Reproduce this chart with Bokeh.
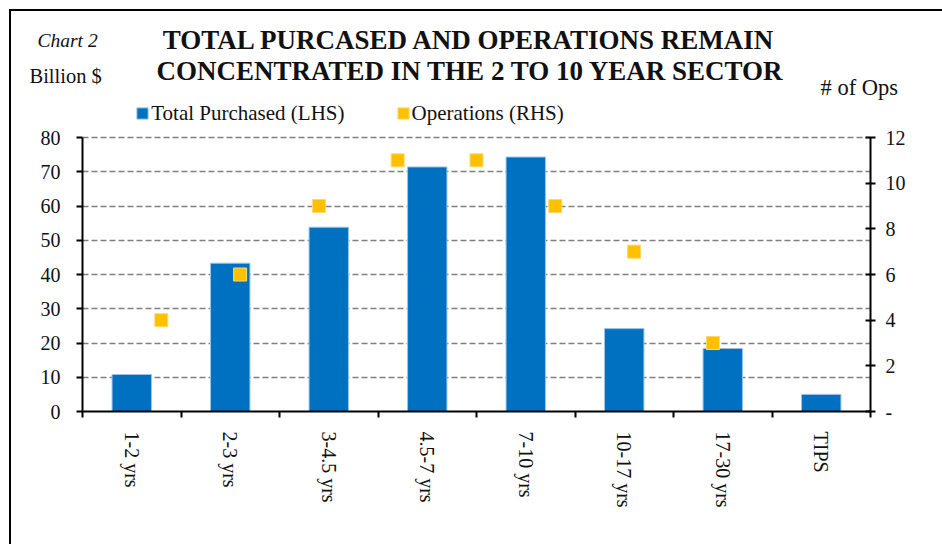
from bokeh.plotting import figure
from bokeh.layouts import column
from bokeh.models import Range1d, LinearAxis, FixedTicker, Legend, ColumnDataSource
from bokeh.core.properties import value
from bokeh.embed import file_html
from bokeh.resources import INLINE

# ---- data ----
categories = ["1-2 yrs", "2-3 yrs", "3-4.5 yrs", "4.5-7 yrs", "7-10 yrs",
              "10-17 yrs", "17-30 yrs", "TIPS"]
total_purchased = [10.8, 43.3, 53.8, 71.4, 74.3, 24.2, 18.4, 5.0]
operations = [4, 6, 9, 11, 11, 9, 7, 3]
left_ticks = [0, 10, 20, 30, 40, 50, 60, 70, 80]
right_ticks = [0, 2, 4, 6, 8, 10, 12]
right_tick_labels = ["-", "2", "4", "6", "8", "10", "12"]

title_lines = ["TOTAL PURCASED AND OPERATIONS REMAIN",
               "CONCENTRATED IN THE 2 TO 10 YEAR SECTOR"]

FONT = "Liberation Serif"
TXT = "#111111"
BLUE = "#0070C0"
BLUE_EDGE = "#9DC3E6"
ORANGE = "#FFC000"
ORANGE_EDGE = "#FFD966"

# ---- layout constants (pixels) ----
W, H = 942, 544
HDR_H = 102          # header strip with the titles
AXIS_TOP = 137       # pixel row of the top of the value axes
AXIS_BOTTOM = 411    # pixel row of the category axis
LEFT, RIGHT = 82, 870

# ================= header (titles) =================
hdr = figure(width=W, height=HDR_H, x_range=Range1d(0, W), y_range=Range1d(HDR_H, 0),
             x_axis_location=None, y_axis_location=None, output_backend="svg",
             toolbar_location=None, min_border=0)
hdr.frame_align = False
hdr.grid.visible = False
hdr.outline_line_color = None
hdr.background_fill_color = None
hdr.border_fill_color = None

def htext(x, y, txt, size, style="normal", align="left"):
    hdr.text(x=[x], y=[y], text=[txt], text_font=value(FONT), text_font_size=size,
             text_font_style=style, text_align=align, text_baseline="alphabetic",
             text_color=TXT)

htext(37, 39.5, "Chart 2", "19.5px", "italic")
htext(29, 75.5, "Billion $", "20.5px")
htext(469, 39.5, title_lines[0], "27px", "bold", "center")
htext(470, 70.5, title_lines[1], "27px", "bold", "center")
htext(820, 86.5, "# of Ops", "22.5px")

# ================= main chart =================
n = len(categories)
left_max = left_ticks[-1]
right_max = right_ticks[-1]
# frame reaches up to the header so the legend can sit inside it; axes are bounded
stretch = (AXIS_BOTTOM - HDR_H) / (AXIS_BOTTOM - AXIS_TOP)

bar_src = ColumnDataSource(dict(x=[i + 0.5 for i in range(n)], top=total_purchased))
ops_src = ColumnDataSource(dict(x=[i + 1 for i in range(len(operations))], y=operations))

p = figure(width=W, height=H - HDR_H, x_range=Range1d(0, n),
           y_range=Range1d(0, left_max * stretch),
           output_backend="svg", toolbar_location=None,
           min_border_left=LEFT, min_border_right=W - RIGHT, min_border_top=0,
           min_border_bottom=H - AXIS_BOTTOM)
p.frame_align = False
p.extra_x_ranges = {"ops": Range1d(0, len(operations) + 2)}
p.extra_y_ranges = {"ops": Range1d(0, right_max * stretch)}
p.outline_line_color = None
p.background_fill_color = "white"
p.border_fill_color = None

bars = p.vbar(x="x", top="top", width=0.4, source=bar_src, fill_color=BLUE,
              line_color=BLUE_EDGE, line_width=1)
ops = p.rect(x="x", y="y", width=13, height=13, width_units="screen", height_units="screen",
             source=ops_src, fill_color=ORANGE, line_color=ORANGE_EDGE, line_width=1,
             x_range_name="ops", y_range_name="ops")

# x axis: labels at category centers, tick marks at category boundaries
xa = p.xaxis[0]
xa.ticker = FixedTicker(ticks=[i + 0.5 for i in range(n)], minor_ticks=list(range(n + 1)))
xa.major_label_overrides = {i + 0.5: c for i, c in enumerate(categories)}
xa.major_tick_line_color = None
xa.minor_tick_in = 0
xa.minor_tick_out = 6
xa.minor_tick_line_width = 2
xa.minor_tick_line_color = "black"
xa.axis_line_width = 2
xa.axis_line_color = "black"
xa.major_label_orientation = "vertical"
xa.major_label_standoff = 14
xa.major_label_text_font = FONT
xa.major_label_text_font_size = "20px"
xa.major_label_text_color = TXT

ya = p.yaxis[0]
ya.ticker = FixedTicker(ticks=left_ticks)
ya.bounds = (0, left_max)
ya.major_tick_in = 0
ya.major_tick_out = 6
ya.major_tick_line_width = 2
ya.minor_tick_line_color = None
ya.axis_line_width = 2
ya.axis_line_color = "black"
ya.major_label_standoff = 16
ya.major_label_text_font = FONT
ya.major_label_text_font_size = "20px"
ya.major_label_text_color = TXT

ra = LinearAxis(y_range_name="ops", ticker=FixedTicker(ticks=right_ticks), bounds=(0, right_max))
ra.major_label_overrides = {t: l for t, l in zip(right_ticks, right_tick_labels)}
ra.major_tick_in = 5
ra.major_tick_out = 5
ra.major_tick_line_width = 2
ra.minor_tick_line_color = None
ra.axis_line_width = 2
ra.axis_line_color = "black"
ra.major_label_standoff = 10
ra.major_label_text_font = FONT
ra.major_label_text_font_size = "20px"
ra.major_label_text_color = TXT
p.add_layout(ra, "right")

p.xgrid.visible = False
p.ygrid.ticker = FixedTicker(ticks=left_ticks[1:])
p.ygrid.grid_line_color = "#808080"
p.ygrid.grid_line_dash = "6 3"
p.ygrid.grid_line_width = 1.5

legend = Legend(items=[("Total Purchased (LHS)", [bars]), ("Operations (RHS)", [ops])],
                orientation="horizontal", location=(53.2, AXIS_BOTTOM - 125.5),
                border_line_color=None, background_fill_alpha=0,
                padding=0, margin=0, spacing=51, label_standoff=2,
                glyph_width=14, glyph_height=14, label_height=22,
                label_text_font=FONT, label_text_font_size="21px", label_text_color=TXT)
p.add_layout(legend)

# outer chart frame (left and top edges visible in the reference)
page = column(hdr, p, styles={
    "background-image": "linear-gradient(#000,#000), linear-gradient(#000,#000)",
    "background-size": "2px 100%, 100% 2px",
    "background-position": "9px 9px, 9px 9px",
    "background-repeat": "no-repeat",
    "background-color": "white",
})

open("out.html", "w").write(file_html(page, INLINE))
